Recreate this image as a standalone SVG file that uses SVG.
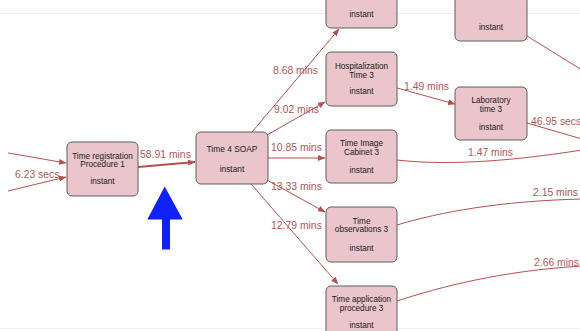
<svg xmlns="http://www.w3.org/2000/svg" width="580" height="331" viewBox="0 0 580 331">
  <style>
    .node rect { fill: #eac5cb; stroke: #5e5e5e; stroke-width: 1; }
    .node text { font-family: "Liberation Sans", Arial, sans-serif; font-size: 8.2px; fill: #1a1a1a; text-anchor: middle; }
    .edge { fill: none; stroke: #b5504f; stroke-width: 1; }
    .edge.thick { stroke-width: 1.8; }
    .lbl { font-family: "Liberation Sans", Arial, sans-serif; font-size: 10.4px; fill: #b55553; }
  </style>
  <defs>
    <marker id="arr" markerWidth="8" markerHeight="6" refX="7" refY="3" orient="auto" markerUnits="userSpaceOnUse">
      <path d="M0,0 L7.5,3 L0,6 z" fill="#b5504f"/>
    </marker>
  </defs>

  <rect x="0" y="0" width="580" height="331" fill="#ffffff"/>
  <!-- faint band edges -->
  <line x1="0" y1="13.5" x2="580" y2="13.5" stroke="#f0f0f0" stroke-width="1"/>
  <line x1="0" y1="328.5" x2="580" y2="328.5" stroke="#f0f0f0" stroke-width="1"/>

  <g id="connectors">
    <!-- incoming to registration -->
    <line class="edge" x1="8" y1="153" x2="66" y2="163" marker-end="url(#arr)"/>
    <line class="edge" x1="8" y1="191" x2="66" y2="177" marker-end="url(#arr)"/>
    <!-- registration -> SOAP -->
    <line class="edge thick" x1="138" y1="167" x2="195" y2="162" marker-end="url(#arr)"/>
    <!-- SOAP fan-out -->
    <line class="edge" x1="252" y1="132" x2="339" y2="29" marker-end="url(#arr)"/>
    <line class="edge" x1="267" y1="135" x2="325" y2="102" marker-end="url(#arr)"/>
    <line class="edge" x1="268" y1="158" x2="325" y2="158" marker-end="url(#arr)"/>
    <line class="edge" x1="267" y1="180" x2="325" y2="212" marker-end="url(#arr)"/>
    <line class="edge" x1="251" y1="184" x2="338" y2="284" marker-end="url(#arr)"/>
    <!-- hospitalization -> laboratory -->
    <line class="edge" x1="397" y1="88" x2="455" y2="104" marker-end="url(#arr)"/>
    <!-- outgoing to the right -->
    <line class="edge" x1="527" y1="36" x2="582" y2="70"/>
    <line class="edge" x1="527" y1="123" x2="582" y2="139"/>
    <path class="edge" d="M397,160 C440,165 500,163 582,150"/>
    <path class="edge" d="M397,225 C440,212 500,201 582,199"/>
    <path class="edge" d="M397,301 C440,287 500,271 582,266"/>
  </g>

  <g id="edge-labels">
    <text class="lbl" x="15" y="178">6.23 secs</text>
    <text class="lbl" x="140" y="158">58.91 mins</text>
    <text class="lbl" x="273" y="74">8.68 mins</text>
    <text class="lbl" x="274" y="113">9.02 mins</text>
    <text class="lbl" x="271" y="151">10.85 mins</text>
    <text class="lbl" x="271" y="190">13.33 mins</text>
    <text class="lbl" x="271" y="229">12.79 mins</text>
    <text class="lbl" x="404" y="90">1.49 mins</text>
    <text class="lbl" x="531" y="125">46.95 secs</text>
    <text class="lbl" x="468" y="155.5">1.47 mins</text>
    <text class="lbl" x="533" y="196">2.15 mins</text>
    <text class="lbl" x="534" y="265.5">2.66 mins</text>
  </g>

  <g id="node-registration" class="node">
    <rect x="67" y="142" width="71" height="54" rx="5"/>
    <text x="102.5" y="158.5">Time registration</text>
    <text x="102.5" y="167">Procedure 1</text>
    <text x="102.5" y="184">instant</text>
  </g>

  <g id="node-soap" class="node">
    <rect x="196" y="132" width="72" height="52" rx="5"/>
    <text x="232" y="152" style="font-size:8.4px">Time 4 SOAP</text>
    <text x="232" y="171.5" style="font-size:8.4px">instant</text>
  </g>

  <g id="node-top" class="node">
    <rect x="326" y="-26" width="71" height="54" rx="5"/>
    <text x="361.5" y="17">instant</text>
  </g>

  <g id="node-hospitalization" class="node">
    <rect x="326" y="52" width="71" height="54" rx="5"/>
    <text x="361.5" y="69">Hospitalization</text>
    <text x="361.5" y="77.5">Time 3</text>
    <text x="361.5" y="93.5">instant</text>
  </g>

  <g id="node-top-right" class="node">
    <rect x="455" y="-13" width="72" height="54" rx="5"/>
    <text x="491" y="29.5">instant</text>
  </g>

  <g id="node-laboratory" class="node">
    <rect x="455" y="87" width="72" height="53" rx="5"/>
    <text x="491" y="103">Laboratory</text>
    <text x="491" y="111.5">time 3</text>
    <text x="491" y="129.5">instant</text>
  </g>

  <g id="node-image-cabinet" class="node">
    <rect x="326" y="130" width="71" height="53" rx="5"/>
    <text x="361.5" y="146">Time Image</text>
    <text x="361.5" y="155">Cabinet 3</text>
    <text x="361.5" y="173">instant</text>
  </g>

  <g id="node-observations" class="node">
    <rect x="326" y="207" width="71" height="55" rx="5"/>
    <text x="361.5" y="223.5">Time</text>
    <text x="361.5" y="232">observations 3</text>
    <text x="361.5" y="250.5">instant</text>
  </g>

  <g id="node-application" class="node">
    <rect x="326" y="286" width="71" height="60" rx="5"/>
    <text x="361.5" y="302">Time application</text>
    <text x="361.5" y="311">procedure 3</text>
    <text x="361.5" y="328">instant</text>
  </g>

  <!-- pointer arrow -->
  <g id="pointer">
    <path d="M164.7,186.5 L182.7,219.5 L170,219.5 L170,249.5 L162,249.5 L162,219.5 L147.3,219.5 z" fill="#1020ff"/>
  </g>
</svg>
